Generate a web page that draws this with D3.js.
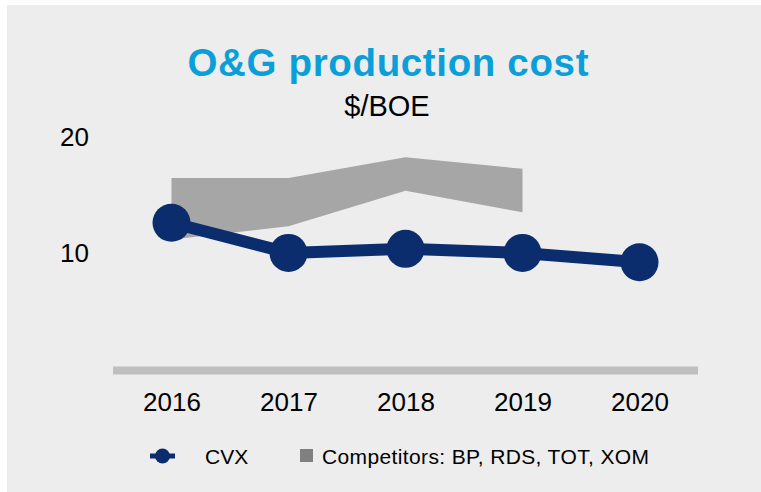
<!DOCTYPE html>
<html>
<head>
<meta charset="utf-8">
<script src="https://cdn.jsdelivr.net/npm/d3@7"></script>
<style>
  body { margin: 0; background: #fff; }
  svg text { font-family: "Liberation Sans", Arial, sans-serif; }
</style>
</head>
<body>
<svg class="chart"></svg>
<script>
// data
const years = ["2016", "2017", "2018", "2019", "2020"];
const cvx = [12.65, 10.05, 10.4, 10.05, 9.25];
const compYears = ["2016", "2017", "2018", "2019"];
const compLow = [11.2, 12.35, 15.4, 13.55];
const compHigh = [16.5, 16.5, 18.3, 17.3];
const yTicks = [10, 20];

var width = 761, height = 492;

let svg = d3.select(".chart")
    .attr("width", width)
    .attr("height", height);

// panel background
svg.append("rect")
    .attr("x", 7).attr("y", 5)
    .attr("width", width - 7).attr("height", height - 5)
    .attr("fill", "#ededed");

var x = d3.scalePoint()
    .domain(years)
    .range([113, 698])
    .padding(0.5);

var y = d3.scaleLinear()
    .domain([0, 20])
    .range([369.5, 137.5]);

// title
svg.append("text")
    .attr("x", 187.5).attr("y", 75.5)
    .attr("font-size", 38.5)
    .attr("font-weight", "bold")
    .attr("fill", "#0b9fd9")
    .attr("textLength", 401)
    .attr("lengthAdjust", "spacing")
    .text("O&G production cost");

svg.append("text")
    .attr("x", 387).attr("y", 115.7)
    .attr("text-anchor", "middle")
    .attr("font-size", 29)
    .attr("fill", "#000")
    .text("$/BOE");

// baseline
svg.append("line")
    .attr("x1", x.range()[0]).attr("x2", x.range()[1])
    .attr("y1", y(0) + 1).attr("y2", y(0) + 1)
    .attr("stroke", "#bfbfbf")
    .attr("stroke-width", 8);

// y axis labels
let yAxis = svg.append("g")
    .attr("transform", "translate(89,0)")
    .call(d3.axisLeft(y).tickValues(yTicks).tickSize(0).tickPadding(0));
yAxis.select(".domain").remove();
yAxis.selectAll("text")
    .attr("font-size", 26)
    .attr("font-family", null)
    .attr("fill", "#000");

// x axis labels
let xAxis = svg.append("g")
    .attr("transform", "translate(0,393)")
    .call(d3.axisBottom(x).tickSize(0).tickPadding(0));
xAxis.select(".domain").remove();
xAxis.selectAll("text")
    .attr("font-size", 26)
    .attr("font-family", null)
    .attr("fill", "#000");

// competitors range
let band = compYears.map(function(d, i) { return {year: d, lo: compLow[i], hi: compHigh[i]}; });
svg.append("path")
    .datum(band)
    .attr("fill", "#a6a6a6")
    .attr("d", d3.area()
        .x(function(d) { return x(d.year); })
        .y0(function(d) { return y(d.lo); })
        .y1(function(d) { return y(d.hi); }));

// CVX line
let pts = years.map(function(d, i) { return {year: d, v: cvx[i]}; });
svg.append("path")
    .datum(pts)
    .attr("fill", "none")
    .attr("stroke", "#0b2d6e")
    .attr("stroke-width", 12)
    .attr("d", d3.line()
        .x(function(d) { return x(d.year); })
        .y(function(d) { return y(d.v); }));

svg.selectAll(".dot")
    .data(pts)
    .enter().append("circle")
    .attr("class", "dot")
    .attr("cx", function(d) { return x(d.year); })
    .attr("cy", function(d) { return y(d.v); })
    .attr("r", 19)
    .attr("fill", "#0b2d6e");

// legend
let leg = svg.append("g");
leg.append("line")
    .attr("x1", 150).attr("x2", 175)
    .attr("y1", 456).attr("y2", 456)
    .attr("stroke", "#0b2d6e")
    .attr("stroke-width", 5);
leg.append("circle")
    .attr("cx", 162.5).attr("cy", 456)
    .attr("r", 7.5)
    .attr("fill", "#0b2d6e");
leg.append("text")
    .attr("x", 205).attr("y", 463.5)
    .attr("font-size", 21)
    .text("CVX");
leg.append("rect")
    .attr("x", 300).attr("y", 449)
    .attr("width", 13).attr("height", 13)
    .attr("fill", "#808080");
leg.append("text")
    .attr("x", 322).attr("y", 463.5)
    .attr("font-size", 21)
    .attr("textLength", 327)
    .attr("lengthAdjust", "spacing")
    .text("Competitors: BP, RDS, TOT, XOM");
</script>
</body>
</html>
